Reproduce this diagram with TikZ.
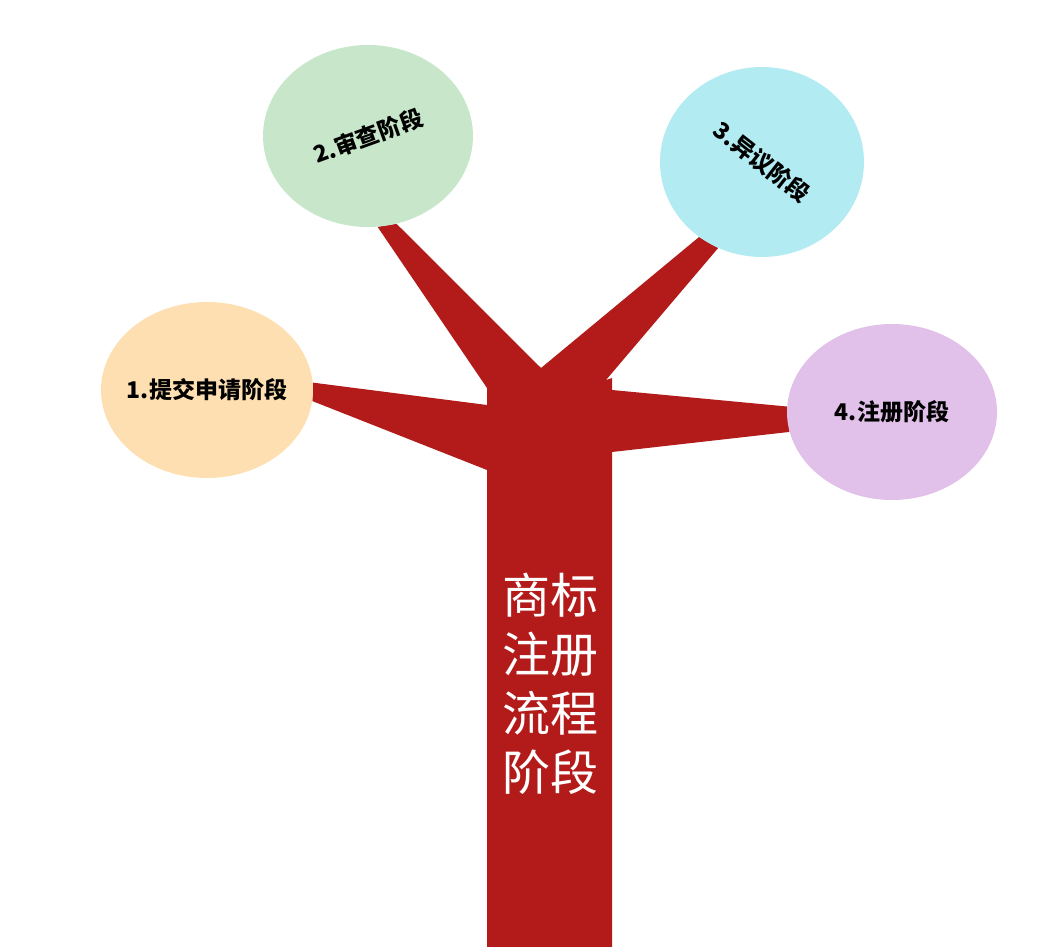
\documentclass[tikz,border=0pt]{standalone}
\usepackage{fontspec}
\usepackage{xcolor}
\usepackage{tikz}
\usetikzlibrary{shapes.geometric}
\usetikzlibrary{backgrounds}
\newfontfamily\cjk{Noto Sans CJK SC}
\definecolor{trunkred}{HTML}{B31B1B}
\definecolor{peach}{HTML}{FDDFB1}
\definecolor{mint}{HTML}{C8E6CA}
\definecolor{aqua}{HTML}{B2EBF2}
\definecolor{lilac}{HTML}{E1C1EA}

\begin{document}
\begin{tikzpicture}
      [x=1pt,y=-1pt,
       stage/.style={ellipse,inner sep=0pt,draw=none},
       stagetext/.style={font=\cjk\bfseries\fontsize{23}{27}\selectfont}]
    \useasboundingbox (0,0) rectangle (1058,947);

    \node[stage,fill=peach,minimum width=212,minimum height=176,
          label={[stagetext]center:1.提交申请阶段}] (s1) at (207,390) {};
    \node[stage,fill=mint,minimum width=210,minimum height=182,
          label={[stagetext,rotate=20]center:2.审查阶段}] (s2) at (368,136) {};
    \node[stage,fill=aqua,minimum width=204,minimum height=190,
          label={[stagetext,rotate=-38]center:3.异议阶段}] (s3) at (762,162) {};
    \node[stage,fill=lilac,minimum width=210,minimum height=176,
          label={[stagetext]center:4.注册阶段}] (s4) at (892,412) {};

    % trunk with its four branches, behind the stages
    \begin{pgfonlayer}{background}
    \fill[trunkred] (487,947) -- (487,470) -- (s1.-6) -- (s1.4) -- (487,405)
          -- (487,388) -- (s2.-84) -- (s2.-72) -- (541,368)
          -- (s3.-130) -- (s3.-117) -- (606,380) -- (612,378)
          -- (612,390) -- (s4.177) -- (s4.-169) -- (612,452) -- (612,947) -- cycle;
    \end{pgfonlayer}

    \node[text=white,align=center,font=\cjk\fontsize{48}{59}\selectfont]
          (title) at (550,684) {商标\\注册\\流程\\阶段};
\end{tikzpicture}
\end{document}
